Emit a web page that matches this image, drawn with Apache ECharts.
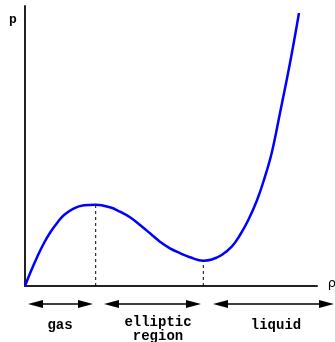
<!DOCTYPE html>
<html>
<head>
<meta charset="utf-8">
<script src="https://cdn.jsdelivr.net/npm/echarts@6/dist/echarts.min.js"></script>
<style>
  html, body { margin: 0; padding: 0; background: #fff; }
  #chart { width: 335px; height: 342px; }
</style>
</head>
<body>
<div id="chart"></div>
<script>
// density vs pressure
const rho = [0, 5.7, 12.3, 19, 25.7, 32.3, 39, 49, 59, 70.7, 85, 95, 105, 115, 125, 135, 145, 155, 165, 178.3, 186.7, 196.7, 206.7, 215, 223.3, 231.7, 238.3, 246.7, 255, 265, 274]
const pres = [0, 14.3, 29.3, 43, 54.3, 63.3, 71, 77.7, 80.7, 81.3, 78.7, 74.3, 68.7, 61, 52.7, 44.3, 37.7, 32.9, 28.8, 25.3, 26.5, 31, 39.3, 51, 66, 85, 104, 133, 173, 223, 273]
const maxPt = [70.7, 81.3]
const minPt = [178.3, 25.3]
const regions = ['gas', 'elliptic\nregion', 'liquid']

const chart = echarts.init(document.getElementById('chart'))
const mono = 'Liberation Mono'

// arrow helper for the region bars under the axis
const arrow = (x1, x2, y) => {
  const h = 15, w = 4
  return [
    { type: 'line', shape: { x1: x1 + h, y1: y, x2: x2 - h, y2: y }, style: { stroke: '#000', lineWidth: 1.5 } },
    { type: 'polygon', shape: { points: [[x1, y], [x1 + h, y - w], [x1 + h, y + w]] }, style: { fill: '#000' } },
    { type: 'polygon', shape: { points: [[x2, y], [x2 - h, y - w], [x2 - h, y + w]] }, style: { fill: '#000' } }
  ]
}

const option = {
  animation: false,
  grid: { left: 25, top: 6, width: 292, height: 280 },
  xAxis: {
    type: 'value', min: 0, max: 292,
    axisLine: { show: true, onZero: false, lineStyle: { color: '#222', width: 2 } },
    axisTick: { show: false }, axisLabel: { show: false }, splitLine: { show: false }
  },
  yAxis: {
    type: 'value', min: 0, max: 280,
    axisLine: { show: true, onZero: false, lineStyle: { color: '#222', width: 2 } },
    axisTick: { show: false }, axisLabel: { show: false }, splitLine: { show: false }
  },
  series: [
    {
      type: 'line', data: rho.map((x, i) => [x, pres[i]]),
      smooth: 0.4, showSymbol: false,
      lineStyle: { color: '#0000ff', width: 2.5 }
    },
    {
      type: 'line', data: [[maxPt[0], 0], maxPt], showSymbol: false,
      lineStyle: { color: '#000', width: 1, type: [3, 3] }
    },
    {
      type: 'line', data: [[minPt[0], 0], minPt], showSymbol: false,
      lineStyle: { color: '#000', width: 1, type: [3, 3] }
    }
  ],
  graphic: [
    { type: 'text', x: 13, y: 20, style: { text: 'p', font: 'bold 13px ' + mono, fill: '#000', align: 'center', verticalAlign: 'middle' } },
    { type: 'text', x: 332, y: 284, style: { text: 'ρ', font: '13px DejaVu Sans', fill: '#000', align: 'center', verticalAlign: 'middle' } },
    ...arrow(28, 93, 304),
    ...arrow(104, 201, 304),
    ...arrow(213, 334, 304),
    { type: 'text', x: 60, y: 325, style: { text: regions[0], font: 'bold 14px ' + mono, fill: '#000', align: 'center', verticalAlign: 'middle' } },
    { type: 'text', x: 158, y: 329.5, style: { text: regions[1], font: 'bold 14px ' + mono, fill: '#000', align: 'center', verticalAlign: 'middle', lineHeight: 14 } },
    { type: 'text', x: 276, y: 325, style: { text: regions[2], font: 'bold 14px ' + mono, fill: '#000', align: 'center', verticalAlign: 'middle' } }
  ]
}
chart.setOption(option)
</script>
</body>
</html>
